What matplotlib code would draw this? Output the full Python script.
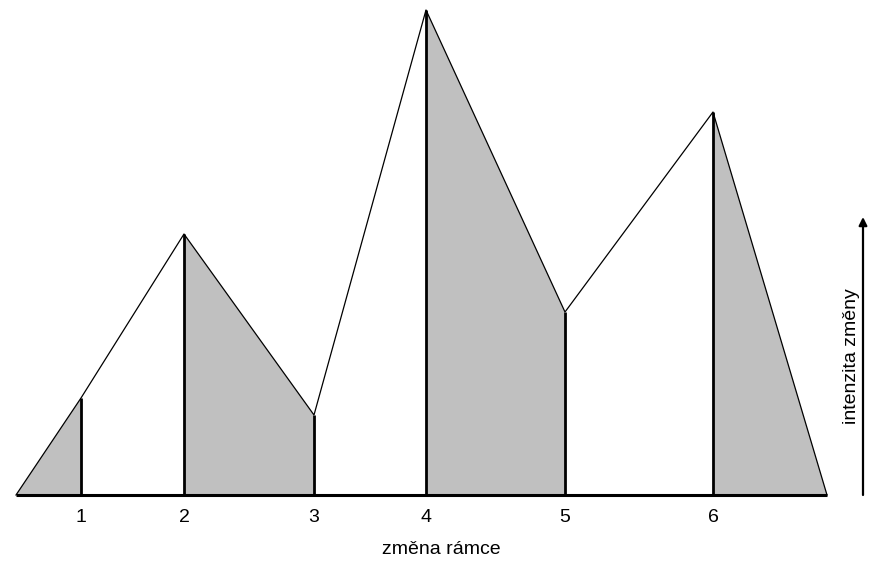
import matplotlib
matplotlib.use("Agg")
import matplotlib.pyplot as plt

# data: time positions (arbitrary units) and change intensity
start_x = 0
end_x = 811
frame_x = [65, 168, 298, 410, 549, 697]
frame_labels = ["1", "2", "3", "4", "5", "6"]
intensity = [97, 261, 80, 485, 183, 383]
arrow_x = 847
arrow_top = 278

W, H = 884, 566
fig = plt.figure(figsize=(W / 100, H / 100), dpi=100)
ax = fig.add_axes([16 / W, (H - 495) / H, 1 - 16 / W, 485 / H])
ax.set_xlim(0, W - 16)
ax.set_ylim(0, 485)
ax.axis("off")

xs = [start_x] + frame_x + [end_x]
ys = [0] + intensity + [0]

# gray fills: segments start->1, 2->3, 4->5, 6->end
gray = "#c0c0c0"
segs = [(0, 1), (2, 3), (4, 5), (6, 7)]
for a, b in segs:
    ax.fill([xs[a], xs[a], xs[b], xs[b]], [0, ys[a], ys[b], 0],
            color=gray, lw=0, clip_on=False)

ax.plot(xs, ys, color="black", lw=0.9, clip_on=False)
for x, y in zip(frame_x, intensity):
    ax.plot([x, x], [0, y], color="black", lw=2, clip_on=False, solid_capstyle="butt")
ax.plot([start_x, end_x], [0, 0], color="black", lw=2.2, clip_on=False, solid_capstyle="butt")

font = ["Liberation Sans", "DejaVu Sans"]
for x, lab in zip(frame_x, frame_labels):
    ax.text(x, -23, lab, ha="center", va="center", fontsize=14, family=font, clip_on=False)
ax.text(425, -54, "změna rámce", ha="center", va="center", fontsize=14, family=font, clip_on=False)

ax.annotate("", xy=(arrow_x, arrow_top), xytext=(arrow_x, 0),
            arrowprops=dict(arrowstyle="-|>", color="black", lw=1.6,
                            mutation_scale=12, shrinkA=0, shrinkB=0),
            annotation_clip=False)
ax.text(arrow_x - 11, 139, "intenzita změny", rotation=90, ha="center", va="center",
        fontsize=14, family=font, clip_on=False)

fig.savefig("out.png", dpi=100)
